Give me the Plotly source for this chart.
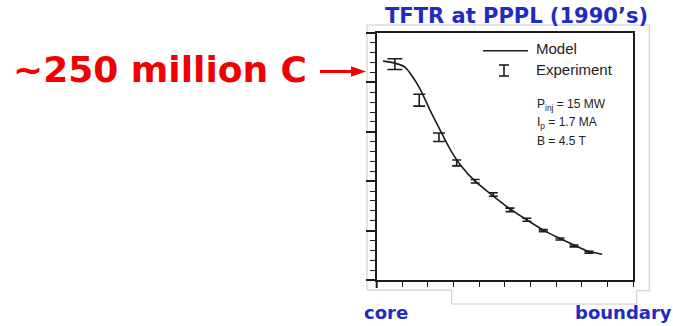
import plotly.graph_objects as go

# Normalised minor radius (core = 0, boundary = 1) and ion temperature (keV)
model_r = [0.025, 0.07, 0.11, 0.138, 0.169, 0.208, 0.247, 0.286, 0.325, 0.384,
           0.45, 0.52, 0.585, 0.65, 0.715, 0.77, 0.82, 0.88]
model_t = [44.3, 43.9, 43.1, 41.3, 38.7, 34.4, 30.4, 26.5, 23.4, 20.0,
           17.2, 14.4, 12.2, 10.1, 8.4, 7.1, 5.9, 5.2]

exp_r = [0.071, 0.166, 0.243, 0.312, 0.384, 0.455, 0.520, 0.586, 0.650, 0.715, 0.770, 0.828]
exp_t = [43.7, 36.4, 28.9, 23.7, 20.0, 17.3, 14.2, 12.2, 10.0, 8.3, 6.9, 5.6]
exp_err = [1.1, 1.2, 0.85, 0.6, 0.35, 0.35, 0.35, 0.3, 0.2, 0.2, 0.2, 0.2]

legend_labels = ["Model", "Experiment"]
param_labels = ["P<sub>inj</sub> = 15 MW", "I<sub>p</sub> = 1.7 MA", "B = 4.5 T"]
title_text = "TFTR at PPPL (1990’s)"
callout_text = "~250 million C"
edge_labels = ["core", "boundary"]

# cross-bar half widths (px) per measurement
cap_half = [7.5, 6, 6, 4.5, 4.5, 4.5, 4.5, 4.5, 4.5, 4.5, 4.5, 4.5]

W, H = 673, 326
INK = "#1c1c1c"
BLUE = "#1f2cc4"
RED = "#f00000"
BOLD = "DejaVu Sans"


def px(x):
    return x / W


def py(y):
    return 1 - y / H


fig = go.Figure()

fig.add_trace(go.Scatter(
    x=model_r, y=model_t, mode="lines",
    line=dict(color=INK, width=1.6, shape="spline", smoothing=0.8),
    showlegend=False, hoverinfo="skip",
))

for i in range(len(exp_r)):
    fig.add_trace(go.Scatter(
        x=[exp_r[i]], y=[exp_t[i]], mode="markers",
        marker=dict(size=1, color=INK),
        error_y=dict(type="data", array=[exp_err[i]], color=INK,
                     thickness=1.6, width=cap_half[i]),
        showlegend=False, hoverinfo="skip",
    ))

axis_common = dict(showgrid=False, zeroline=False, showticklabels=False,
                   showline=True, linecolor=INK, linewidth=2, mirror=True,
                   ticks="outside", tickcolor=INK)

fig.update_xaxes(range=[0, 1], dtick=0.1, tick0=0, ticklen=5, tickwidth=1.2,
                 domain=[px(376.7), px(633)], **axis_common)
fig.update_yaxes(range=[0, 50], dtick=10, tick0=0, ticklen=9, tickwidth=1.5,
                 minor=dict(ticks="outside", ticklen=5, dtick=2, tickcolor=INK, tickwidth=1.3),
                 domain=[py(280), py(33)], **axis_common)

shapes = []
# light outline around the figure panel
outline = [(367, 25), (649.3, 25), (649.3, 290.7), (636.7, 290.7), (636.7, 304),
           (451.7, 304), (451.7, 290), (367, 290)]
path = "M " + " L ".join(f"{px(a):.5f},{py(b):.5f}" for a, b in outline) + " Z"
shapes.append(dict(type="path", xref="paper", yref="paper", path=path,
                   line=dict(color="#c8c8c8", width=1), layer="below"))
# axis line overhangs
shapes.append(dict(type="line", xref="paper", yref="paper",
                   x0=px(376.7), x1=px(376.7), y0=py(280), y1=py(288),
                   line=dict(color=INK, width=2)))
shapes.append(dict(type="line", xref="paper", yref="paper",
                   x0=px(367), x1=px(376.7), y0=py(280), y1=py(280),
                   line=dict(color=INK, width=2)))
# legend glyphs
shapes.append(dict(type="line", xref="paper", yref="paper",
                   x0=px(483), x1=px(528), y0=py(50.7), y1=py(50.7),
                   line=dict(color=INK, width=1.6)))
for a0, a1, b0, b1 in [(504, 504, 65, 76), (499, 509, 65, 65), (499, 509, 76, 76)]:
    shapes.append(dict(type="line", xref="paper", yref="paper",
                       x0=px(a0), x1=px(a1), y0=py(b0), y1=py(b1),
                       line=dict(color=INK, width=1.6)))
# red arrow to the central temperature
shapes.append(dict(type="line", xref="paper", yref="paper",
                   x0=px(320), x1=px(355), y0=py(71.5), y1=py(71.5),
                   line=dict(color=RED, width=3)))
shapes.append(dict(type="path", xref="paper", yref="paper",
                   path=f"M {px(351):.5f},{py(66.3):.5f} L {px(366):.5f},{py(71.5):.5f} "
                        f"L {px(351):.5f},{py(76.7):.5f} Z",
                   fillcolor=RED, line=dict(color=RED, width=0)))

annotations = [
    dict(text=f"<b>{title_text}</b>", x=px(516.7), y=py(16), xanchor="center", yanchor="middle",
         font=dict(family=BOLD, size=21, color=BLUE)),
    dict(text=f"<b>{callout_text}</b>", x=px(11), y=py(69), xanchor="left", yanchor="middle",
         font=dict(family=BOLD, size=36, color=RED)),
    dict(text=f"<b>{edge_labels[0]}</b>", x=px(362), y=py(312), xanchor="left", yanchor="middle",
         font=dict(family=BOLD, size=18, color=BLUE)),
    dict(text=f"<b>{edge_labels[1]}</b>", x=px(674), y=py(312), xanchor="right", yanchor="middle",
         font=dict(family=BOLD, size=18, color=BLUE)),
    dict(text=legend_labels[0], x=px(534), y=py(48), xanchor="left", yanchor="middle",
         font=dict(family="Liberation Sans", size=15, color="#222222")),
    dict(text=legend_labels[1], x=px(534), y=py(69), xanchor="left", yanchor="middle",
         font=dict(family="Liberation Sans", size=15, color="#222222")),
]
for k, lab in enumerate(param_labels):
    annotations.append(dict(text=lab, x=px(535), y=py(105 + 18 * k), xanchor="left",
                            yanchor="middle", showarrow=False,
                            font=dict(family="Liberation Sans", size=12, color="#222222")))
for a in annotations:
    a.setdefault("showarrow", False)
    a["xref"] = "paper"
    a["yref"] = "paper"

fig.update_layout(
    width=W, height=H, margin=dict(l=0, r=0, t=0, b=0),
    paper_bgcolor="white", plot_bgcolor="white",
    shapes=shapes, annotations=annotations, showlegend=False,
)

fig.write_html("out.html")
